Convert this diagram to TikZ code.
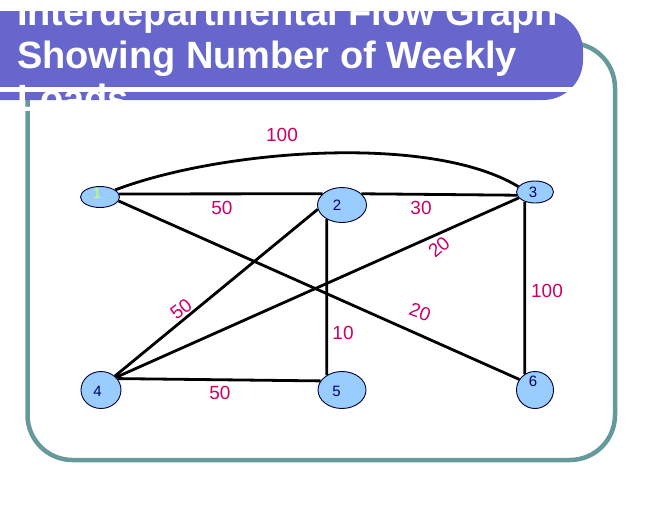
\documentclass[tikz,border=0pt]{standalone}
\usepackage{fontspec}
\setmainfont{Liberation Sans}
\usetikzlibrary{shapes.geometric}
\definecolor{barcol}{RGB}{102,102,204}
\definecolor{framecol}{RGB}{102,153,153}
\definecolor{nodefill}{RGB}{153,204,255}
\definecolor{nodeline}{RGB}{0,0,51}
\definecolor{numcol}{RGB}{0,0,102}
\definecolor{labcol}{RGB}{204,0,102}
\definecolor{onecol}{RGB}{204,255,102}
\newcommand{\dlab}[3]{\makebox[0pt]{\hspace*{#1}\raisebox{#2}{#3}}}
\begin{document}
\begin{tikzpicture}[x=1pt,y=-1pt,
  dept/.style={ellipse,draw=nodeline,fill=nodefill,line width=0.9pt,inner sep=0pt,
    text height=11pt,text depth=0pt,font=\fontsize{15}{15}\selectfont,text=numcol},
  flow/.style={line width=2.8pt,black},
  wt/.style={text=labcol,font=\fontsize{19}{19}\selectfont,inner sep=0pt}]
\useasboundingbox (0,0) rectangle (648,504);
\clip (0,0) rectangle (648,504);
% frame
\draw[framecol,line width=4.5pt,rounded corners=45pt] (27.5,43) rectangle (615,460);
% title bar
\fill[barcol,rounded corners=40pt] (-60,11) rectangle (583,100);
\fill[white] (0,87) rectangle (590,91.5);
\node[anchor=north west,text=white,align=left,font=\fontsize{38}{43}\bfseries\selectfont,inner sep=0pt] (title) at (17,-2)
  {Interdepartmental Flow Graph\\Showing Number of Weekly\\Loads};
% departments
\node[dept,minimum width=39pt,minimum height=21pt,text=onecol] (n1) at (100,197) {\dlab{-6pt}{4pt}{1}};
\node[dept,minimum width=49pt,minimum height=35pt] (n2) at (342,205) {\dlab{-10pt}{0pt}{2}};
\node[dept,minimum width=37pt,minimum height=22pt] (n3) at (535,192) {\dlab{-4pt}{0pt}{3}};
\node[dept,minimum width=40pt,minimum height=37pt] (n4) at (101,390) {\dlab{-7pt}{-1pt}{4}};
\node[dept,minimum width=48pt,minimum height=37pt] (n5) at (342,390) {\dlab{-11pt}{-1pt}{5}};
\node[dept,minimum width=37pt,minimum height=37pt] (n6) at (535,390) {\dlab{-4pt}{9pt}{6}};
% flows
\draw[flow] (n1.25) .. controls (220,150) and (430,133) .. (n3.162);
\draw[flow] (n1.9) -- (n2.150);
\draw[flow] (n2.30) -- (n3.190);
\draw[flow] (n1.-12) -- (n6.146);
\draw[flow] (n2.190) -- (n4.45);
\draw[flow] (n3.200) -- (n4.40);
\draw[flow] (n2.-137) -- (n5.136);
\draw[flow] (n4.35) -- (n5.157);
\draw[flow] (n3.223) -- (n6.123);
% weights
\node[wt] (w13) at (282,135) {100};
\node[wt] (w12) at (222,208) {50};
\node[wt] (w23) at (421,208) {30};
\node[wt,rotate=40] (w34) at (439,247) {20};
\node[wt,rotate=-20] (w16) at (420,312) {20};
\node[wt,rotate=38] (w24) at (181,309) {50};
\node[wt] (w25) at (343,333) {10};
\node[wt] (w45) at (220,393) {50};
\node[wt] (w36) at (547,291) {100};
\end{tikzpicture}
\end{document}
